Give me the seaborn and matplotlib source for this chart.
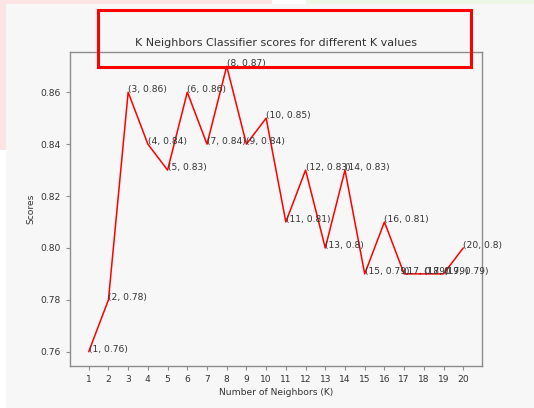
import matplotlib
matplotlib.use("Agg")
import matplotlib.pyplot as plt
import matplotlib.patches as mpatches
import seaborn as sns
import pandas as pd

k_values = list(range(1, 21))
scores = [0.76, 0.78, 0.86, 0.84, 0.83, 0.86, 0.84, 0.87, 0.84, 0.85,
          0.81, 0.83, 0.80, 0.83, 0.79, 0.81, 0.79, 0.79, 0.79, 0.80]
title = "K Neighbors Classifier scores for different K values"
x_label = "Number of Neighbors (K)"
y_label = "Scores"

sns.set_style("ticks")
plt.rcParams["font.family"] = ["DejaVu Sans"]

text_color = "#333333"
spine_color = "#8c8c8c"
panel_color = "#f7f7f7"

fig = plt.figure(figsize=(5.34, 4.08), dpi=100)
fig.patch.set_facecolor("white")

W, H = 534.0, 408.0


def px_rect(x0, y0, x1, y1, **kw):
    # rectangle given in pixel coordinates from the top-left corner
    return mpatches.Rectangle((x0 / W, 1 - y1 / H), (x1 - x0) / W, (y1 - y0) / H,
                              transform=fig.transFigure, **kw)


fig.patches.append(px_rect(0, 0, 272, 150, facecolor="#fde4e4", edgecolor="none", zorder=0))
fig.patches.append(px_rect(306, 0, 534, 5, facecolor="#eef6e4", edgecolor="none", zorder=0))
fig.patches.append(px_rect(6, 4, 534, 408, facecolor=panel_color, edgecolor="none", zorder=0.5))

ax = fig.add_axes([70 / W, 1 - 366 / H, (482 - 70) / W, (366 - 52) / H])
ax.set_zorder(2)
ax.set_facecolor(panel_color)

df = pd.DataFrame({"K": k_values, "Score": scores})
sns.lineplot(data=df, x="K", y="Score", color="red", linewidth=1.1, ax=ax)

for k, s in zip(k_values, scores):
    ax.text(k, s, f"({k}, {s})", fontsize=6.6, color=text_color)

ax.set_xticks(k_values)
ax.set_yticks([0.76, 0.78, 0.80, 0.82, 0.84, 0.86])
ax.set_yticklabels([f"{v:.2f}" for v in [0.76, 0.78, 0.80, 0.82, 0.84, 0.86]])
ax.set_xlim(0.05, 20.95)
ax.set_ylim(0.7545, 0.8755)

ax.tick_params(labelsize=6.6, colors=text_color, length=3, width=0.8)
ax.tick_params(axis="both", color=spine_color)
for sp in ax.spines.values():
    sp.set_visible(True)
    sp.set_color(spine_color)
    sp.set_linewidth(1.0)

ax.set_xlabel(x_label, fontsize=6.6, color=text_color, labelpad=3)
ax.set_ylabel(y_label, fontsize=6.6, color=text_color, labelpad=4)
ax.set_title(title, fontsize=8, color=text_color, pad=4)

# highlight frame around the title
fig.patches.append(px_rect(98, 10, 471, 67, facecolor="none", edgecolor="#ff0000",
                           linewidth=2.2, zorder=5))

fig.savefig("out.png", dpi=100, facecolor=fig.get_facecolor())
